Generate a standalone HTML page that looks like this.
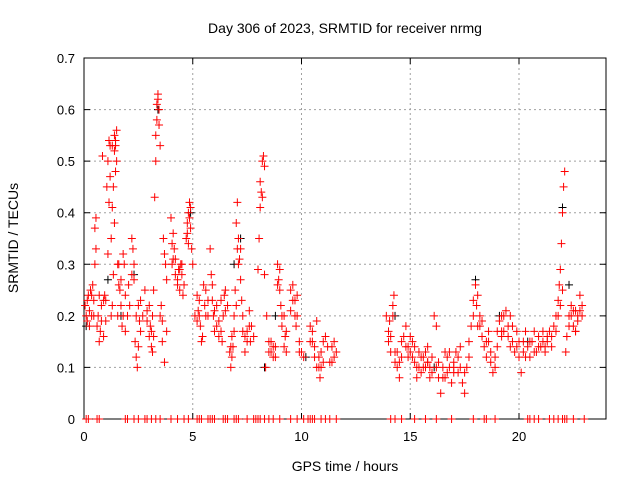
<!DOCTYPE html>
<html><head><meta charset="utf-8"><style>
body{margin:0;background:#fff;}
svg{display:block;font-family:"Liberation Sans",sans-serif;}
</style></head><body>
<svg id="chart" width="640" height="480">
<text x="345" y="33" text-anchor="middle" font-size="14">Day 306 of 2023, SRMTID for receiver nrmg</text>
<text x="345" y="471" text-anchor="middle" font-size="14">GPS time / hours</text>
<text x="18" y="238" text-anchor="middle" font-size="14" transform="rotate(-90 18 238)">SRMTID / TECUs</text>
<g id="grid"></g><g id="axes"></g><g id="marks"></g>
</svg>
<script>
const xTicks=[0,5,10,15,20];
const yTicks=[0,0.1,0.2,0.3,0.4,0.5,0.6,0.7];
const yTickLabels=["0","0.1","0.2","0.3","0.4","0.5","0.6","0.7"];
const redHours=[0.05,0.1,0.15,0.2,0.25,0.3,0.35,0.4,0.45,0.5,0.55,0.5,0.55,0.7,0.75,0.8,0.9,0.95,1.0,0.85,1.1,1.05,1.1,1.15,1.2,
1.25,1.3,1.35,1.4,1.45,1.5,1.55,1.6,1.65,1.7,1.75,1.8,1.85,1.9,2.0,2.05,2.1,1.3,1.4,1.45,1.35,1.25,
2.2,2.25,2.3,2.35,2.4,2.45,2.5,2.55,2.6,
2.8,2.9,3.0,3.05,3.1,3.15,3.2,3.25,3.3,3.35,3.4,3.45,3.5,3.55,3.6,3.7,3.8,3.65,3.7,3.75,3.8,
4.0,4.05,4.1,4.15,4.2,4.3,4.35,4.4,4.45,4.5,4.55,4.7,4.75,4.8,4.85,4.9,4.95,5.0,
5.2,5.25,5.3,5.35,5.4,5.5,5.55,5.6,5.7,5.8,5.85,5.9,5.95,6.0,6.1,6.2,6.3,6.35,6.4,6.45,6.5,
6.7,6.75,6.8,6.85,6.9,6.95,7.0,7.05,7.1,7.15,7.2,7.25,7.3,7.4,7.5,7.6,7.65,7.7,7.8,
8.0,8.05,8.1,8.15,8.2,8.25,8.3,8.35,8.4,8.5,8.6,8.7,8.8,8.9,8.95,9.0,9.05,9.1,9.2,9.25,9.3,
9.5,9.6,9.7,9.75,9.8,9.9,10.0,10.1,10.4,10.5,10.6,10.7,10.8,10.85,10.9,11.0,11.1,11.2,11.3,11.4,11.5,11.6,
13.9,14.0,14.05,14.1,14.2,14.25,14.3,14.4,14.5,14.6,14.7,14.8,14.9,15.0,15.1,15.2,15.3,15.4,15.5,
15.6,15.7,15.8,15.9,16.0,16.1,16.2,16.3,16.4,16.5,16.6,16.7,16.8,16.9,17.0,17.1,17.2,17.3,17.4,17.5,
17.6,17.7,17.8,17.9,18.0,18.05,18.1,18.2,18.3,18.4,18.5,18.6,18.7,18.8,18.9,19.0,19.1,19.2,19.3,19.4,19.5,
19.6,19.7,19.8,19.9,20.0,20.1,20.2,20.3,20.4,20.5,20.6,20.8,20.9,21.0,21.1,21.2,21.3,21.4,21.5,21.6,
21.7,21.8,21.85,21.9,21.95,22.0,22.05,22.1,22.15,22.2,22.3,22.4,22.5,22.6,22.7,22.8,22.9,
14.5,15.0,15.3,15.8,16.2,16.6,17.0,17.2,18.2,18.6,19.2,19.6,20.2,20.7,21.2,22.4,22.6];
const redValues=[0.22,0.2,0.19,0.24,0.21,0.25,0.2,0.26,0.23,0.3,0.33,0.37,0.39,0.15,0.17,0.19,0.23,0.24,0.23,0.51,0.32,0.45,0.5,0.54,0.53,
0.2,0.22,0.28,0.52,0.54,0.56,0.3,0.26,0.25,0.22,0.18,0.32,0.3,0.24,0.2,0.26,0.22,0.41,0.38,0.48,0.45,0.35,
0.35,0.33,0.27,0.15,0.12,0.1,0.22,0.19,0.23,
0.25,0.21,0.16,0.18,0.14,0.2,0.25,0.43,0.5,0.58,0.62,0.6,0.53,0.22,0.15,0.11,0.17,0.35,0.32,0.3,0.27,
0.39,0.34,0.31,0.33,0.28,0.26,0.29,0.25,0.3,0.28,0.24,0.35,0.38,0.4,0.42,0.37,0.33,0.3,
0.24,0.21,0.2,0.18,0.15,0.26,0.22,0.25,0.2,0.33,0.28,0.23,0.2,0.17,0.22,0.19,0.17,0.15,0.2,0.24,0.25,
0.13,0.1,0.16,0.14,0.2,0.25,0.38,0.42,0.35,0.31,0.27,0.23,0.2,0.13,0.17,0.21,0.15,0.18,0.16,
0.29,0.35,0.41,0.44,0.5,0.51,0.28,0.1,0.2,0.15,0.13,0.14,0.12,0.3,0.27,0.25,0.22,0.18,0.2,0.16,0.13,
0.25,0.23,0.2,0.18,0.24,0.15,0.13,0.12,0.18,0.15,0.12,0.19,0.1,0.08,0.13,0.11,0.16,0.14,0.11,0.14,0.12,0.13,
0.2,0.17,0.19,0.13,0.22,0.24,0.13,0.1,0.08,0.12,0.16,0.18,0.14,0.16,0.12,0.14,0.1,0.13,0.09,
0.12,0.1,0.14,0.08,0.12,0.2,0.18,0.08,0.05,0.1,0.08,0.12,0.1,0.07,0.11,0.13,0.09,0.14,0.07,0.05,
0.1,0.15,0.18,0.23,0.26,0.22,0.18,0.2,0.16,0.14,0.12,0.17,0.13,0.09,0.1,0.14,0.19,0.2,0.17,0.21,0.18,
0.2,0.15,0.13,0.17,0.12,0.09,0.13,0.17,0.14,0.12,0.15,0.13,0.16,0.14,0.17,0.14,0.15,0.17,0.16,0.18,
0.2,0.23,0.26,0.29,0.34,0.4,0.45,0.48,0.13,0.16,0.2,0.22,0.18,0.21,0.19,0.24,0.22,
0.11,0.13,0.08,0.11,0.1,0.13,0.1,0.12,0.18,0.15,0.16,0.14,0.15,0.17,0.13,0.2,0.17];
const extraHours=[0.15,0.25,0.35,0.45,0.6,0.65,0.7,0.8,0.9,1.0,
1.15,1.2,1.3,1.4,1.45,1.5,1.55,1.6,1.7,1.8,1.9,
2.2,2.3,2.4,2.5,2.6,2.7,
2.9,3.0,3.1,3.15,3.2,3.3,3.35,3.4,3.45,3.5,3.6,
4.05,4.1,4.2,4.3,4.4,4.5,4.6,4.75,4.8,4.85,4.9,
5.1,5.2,5.3,5.45,5.6,5.7,5.9,6.0,6.1,6.2,6.3,6.5,6.6,
6.75,6.8,6.9,7.0,7.05,7.1,7.2,7.3,7.4,7.5,7.6,
8.1,8.2,8.3,8.5,8.6,8.7,8.8,8.9,9.0,9.1,9.2,9.3,
9.5,9.6,9.7,9.8,9.9,10.4,10.5,10.6,10.7,10.8,10.9,11.0,11.4,11.5,
14.0,14.1,14.2,14.3,14.4,14.6,14.8,14.9,15.1,15.2,15.4,15.5,15.6,15.7,15.8,15.9,16.0,16.3,16.5,16.7,16.8,17.0,17.3,17.5,17.7,17.9,
18.1,18.3,18.5,18.7,18.9,19.0,19.2,19.3,19.5,19.7,19.9,20.0,20.3,20.5,20.7,20.9,21.1,21.3,21.5,21.7,21.8,21.9,22.0,
22.3,22.5,22.6,22.7,22.8,22.9];
const extraValues=[0.23,0.18,0.24,0.2,0.18,0.2,0.24,0.22,0.16,0.19,
0.42,0.47,0.53,0.55,0.53,0.5,0.2,0.3,0.27,0.2,0.17,
0.28,0.3,0.2,0.14,0.17,0.2,
0.19,0.22,0.17,0.13,0.16,0.55,0.61,0.63,0.57,0.2,0.19,
0.3,0.36,0.31,0.27,0.29,0.3,0.26,0.36,0.34,0.39,0.41,
0.2,0.19,0.23,0.16,0.2,0.23,0.26,0.21,0.18,0.16,0.23,0.21,0.22,
0.14,0.12,0.17,0.22,0.33,0.3,0.33,0.17,0.16,0.15,0.18,
0.46,0.43,0.49,0.13,0.15,0.12,0.14,0.26,0.29,0.2,0.14,0.17,
0.21,0.26,0.23,0.2,0.13,0.15,0.17,0.14,0.1,0.12,0.1,0.15,0.11,0.15,
0.15,0.16,0.2,0.11,0.13,0.15,0.14,0.12,0.15,0.11,0.1,0.12,0.1,0.13,0.11,0.1,0.09,0.11,0.08,0.09,0.13,0.09,0.1,0.09,0.12,0.2,
0.24,0.19,0.15,0.11,0.12,0.17,0.17,0.2,0.16,0.18,0.14,0.15,0.12,0.15,0.13,0.14,0.15,0.16,0.14,0.17,0.2,0.22,0.25,
0.18,0.21,0.17,0.2,0.21,0.2];
const zeroHours=[0.1,0.2,0.6,0.7,1.9,2.0,2.3,2.5,2.8,2.9,3.1,3.3,3.5,4.0,4.3,4.6,4.8,5.2,5.3,5.4,5.7,5.8,5.9,6.0,6.4,6.5,6.6,6.9,7.0,7.1,7.5,7.8,7.9,8.0,8.1,8.3,8.5,8.7,9.0,9.5,9.8,10.1,10.3,10.4,10.5,10.6,10.9,11.1,11.3,11.6,14.1,14.3,14.6,15.2,15.7,16.2,16.9,17.9,18.4,18.5,18.9,20.4,20.5,20.7,20.9,21.4,21.6,21.8,22.0,22.1,22.2,22.5,23.0];
const blackHours=[0.1,1.1,1.7,2.3,3.4,4.9,6.9,7.2,8.3,8.8,10.2,14.3,16.1,18.0,19.1,20.4,22.0,22.3];
const blackValues=[0.18,0.27,0.2,0.28,0.6,0.4,0.3,0.35,0.1,0.2,0.12,0.2,0.1,0.27,0.2,0.15,0.41,0.26];

const L=84,R=606,T=58,B=419,xMax=24,yMax=0.7;
const xs=h=>L+(R-L)*h/xMax, ys=v=>B-(B-T)*v/yMax;
const NS="http://www.w3.org/2000/svg";
function mk(tag,attrs,parent){const e=document.createElementNS(NS,tag);for(const k in attrs)e.setAttribute(k,attrs[k]);parent.appendChild(e);return e;}
const grid=document.getElementById('grid'),axes=document.getElementById('axes'),marks=document.getElementById('marks');
yTicks.forEach((t,i)=>{
  const y=ys(t);
  if(t>0&&t<yMax){const g=mk('line',{x1:L,x2:R,y1:y,y2:y,stroke:'#a0a0a0','stroke-dasharray':'2,3'},grid);
  
  }
  const tk=mk('path',{d:`M${L},${y}h6M${R},${y}h-6`,stroke:'#000'},axes);
  
  
  const lb=mk('text',{x:L-9,y:y+5,'text-anchor':'end','font-size':'13'},axes);lb.textContent=yTickLabels[i];
  
  
});
xTicks.forEach(t=>{
  const x=xs(t);
  if(t>0){const g=mk('line',{x1:x,x2:x,y1:T,y2:B,stroke:'#a0a0a0','stroke-dasharray':'2,3'},grid);
  
  }
  const tk=mk('path',{d:`M${x},${B}v-6M${x},${T}v6`,stroke:'#000'},axes);
  
  
  const lb=mk('text',{x:x,y:B+22,'text-anchor':'middle','font-size':'13'},axes);lb.textContent=String(t);
  
  
});
const frame=mk('rect',{x:L,y:T,width:R-L,height:B-T,fill:'none',stroke:'#000'},axes);


function plus(h,v,col){const x=xs(h),y=ys(v);
  const p=mk('path',{d:`M${x-4},${y}h8M${x},${y-4}v8`,stroke:col,'stroke-width':'1'},marks);
  
  }
blackHours.forEach((h,i)=>plus(h,blackValues[i],'#000'));
redHours.forEach((h,i)=>plus(h,redValues[i],'#f00'));
extraHours.forEach((h,i)=>plus(h,extraValues[i],'#f00'));
zeroHours.forEach(h=>plus(h,0,'#f00'));
</script>
</body></html>
